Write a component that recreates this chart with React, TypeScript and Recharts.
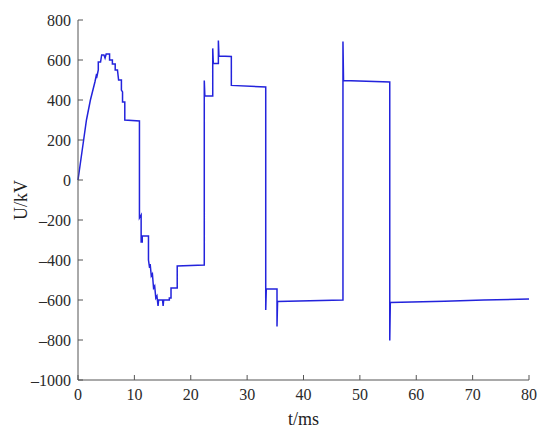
import React from 'react'
import { LineChart, Line, XAxis, YAxis, Label } from 'recharts'

// 电压波形 U/kV vs t/ms（读图估计值，竖直跳变用重复的 t 表示）
const timeMs = [
  0, 0.5, 1.0, 1.5, 2.2, 3.0, 3.3, 3.3, 3.6, 3.6, 4.0, 4.2, 4.6, 4.8, 5.0, 5.6, 5.6, 6.1, 6.1, 6.6,
  6.6, 7.0, 7.2, 7.7, 7.7, 7.9, 7.9, 8.3, 8.3, 10.9, 10.9, 11.2, 11.2, 11.4, 11.4, 12.5, 12.5, 12.7, 12.8, 13.0,
  13.2, 13.4, 13.6, 13.8, 14.0, 14.2, 14.3, 15.0, 15.1, 15.2, 16.2, 16.2, 16.5, 16.5, 17.6, 17.6, 22.4, 22.4, 22.5, 23.9,
  23.9, 24.0, 24.9, 24.9, 25.0, 27.2, 27.2, 33.3, 33.3, 33.4, 35.3, 35.3, 35.4, 47.0, 47.0, 47.1, 55.3, 55.3, 55.4, 65,
  72, 80,
]
const voltageKv = [
  0, 100, 200, 300, 400, 490, 530, 510, 550, 590, 590, 625, 625, 610, 630, 630, 600, 600, 580, 580,
  550, 550, 500, 500, 450, 440, 390, 390, 300, 295, -190, -175, -310, -310, -280, -280, -400, -440, -420, -480,
  -470, -540, -530, -590, -580, -630, -600, -600, -630, -600, -600, -590, -590, -540, -540, -430, -425, 497, 420, 420,
  658, 583, 583, 697, 620, 618, 473, 465, -650, -545, -545, -733, -608, -600, 692, 497, 490, -803, -612, -606,
  -600, -595,
]

const xTicks = [0, 10, 20, 30, 40, 50, 60, 70, 80]
const yTicks = [-1000, -800, -600, -400, -200, 0, 200, 400, 600, 800]

const data = timeMs.map((t, i) => ({ t, u: voltageKv[i] }))

const font = '"Liberation Serif", "Times New Roman", serif'
const axisColor = '#555'
const TICK_LEN = 5
const X_GAP = 9
const Y_GAP = 7

// 负号用短横线（en dash），和原图一致
const fmt = (v: number) => String(v).replace('-', '\u2013')

// 刻度线朝内（MATLAB 风格），和标签一起画
function BottomTick({ x, y, payload }: any) {
  const axisY = y - X_GAP
  return (
    <g>
      <line x1={x} y1={axisY} x2={x} y2={axisY - TICK_LEN} stroke={axisColor} />
      <text x={x} y={y} dy="0.71em" textAnchor="middle" fontFamily={font} fontSize={16} fill="#2a2a2a">
        {fmt(payload.value)}
      </text>
    </g>
  )
}

function LeftTick({ x, y, payload }: any) {
  const axisX = x + Y_GAP
  return (
    <g>
      <line x1={axisX} y1={y} x2={axisX + TICK_LEN} y2={y} stroke={axisColor} />
      <text x={x} y={y} dy="0.355em" textAnchor="end" fontFamily={font} fontSize={16} fill="#2a2a2a">
        {fmt(payload.value)}
      </text>
    </g>
  )
}

function TopTick({ x, y }: any) {
  return <line x1={x} y1={y} x2={x} y2={y + TICK_LEN} stroke={axisColor} />
}

function RightTick({ x, y }: any) {
  return <line x1={x} y1={y} x2={x - TICK_LEN} y2={y} stroke={axisColor} />
}

export default function App() {
  return (
    <div style={{ position: 'absolute', left: 0, top: 0, background: '#fff' }}>
      <LineChart width={550} height={441} data={data} margin={{ top: 20, right: 21, bottom: 18, left: 0 }}>
        <XAxis
          xAxisId="bottom"
          dataKey="t"
          type="number"
          domain={[0, 80]}
          ticks={xTicks}
          tick={<BottomTick />}
          tickLine={false}
          tickSize={0}
          tickMargin={X_GAP}
          height={43}
          stroke={axisColor}
          interval={0}
        >
          <Label value="t/ms" position="insideBottom" offset={-2} style={{ fontSize: 18, fill: '#222', fontFamily: font }} />
        </XAxis>
        <XAxis
          xAxisId="top"
          orientation="top"
          dataKey="t"
          type="number"
          domain={[0, 80]}
          ticks={xTicks}
          tick={<TopTick />}
          tickLine={false}
          tickSize={0}
          tickMargin={0}
          height={0}
          stroke={axisColor}
          interval={0}
        />
        <YAxis
          yAxisId="left"
          type="number"
          domain={[-1000, 800]}
          ticks={yTicks}
          tick={<LeftTick />}
          tickLine={false}
          tickSize={0}
          tickMargin={Y_GAP}
          width={78}
          stroke={axisColor}
          interval={0}
        >
          <Label
            value="U/kV"
            angle={-90}
            position="insideLeft"
            offset={21}
            style={{ fontSize: 18, fill: '#222', fontFamily: font, textAnchor: 'middle' }}
          />
        </YAxis>
        <YAxis
          yAxisId="right"
          orientation="right"
          type="number"
          domain={[-1000, 800]}
          ticks={yTicks}
          tick={<RightTick />}
          tickLine={false}
          tickSize={0}
          tickMargin={0}
          width={0}
          stroke={axisColor}
          interval={0}
        />
        <Line
          xAxisId="bottom"
          yAxisId="left"
          type="linear"
          dataKey="u"
          stroke="#2323dc"
          strokeWidth={1.5}
          dot={false}
          isAnimationActive={false}
        />
      </LineChart>
    </div>
  )
}
